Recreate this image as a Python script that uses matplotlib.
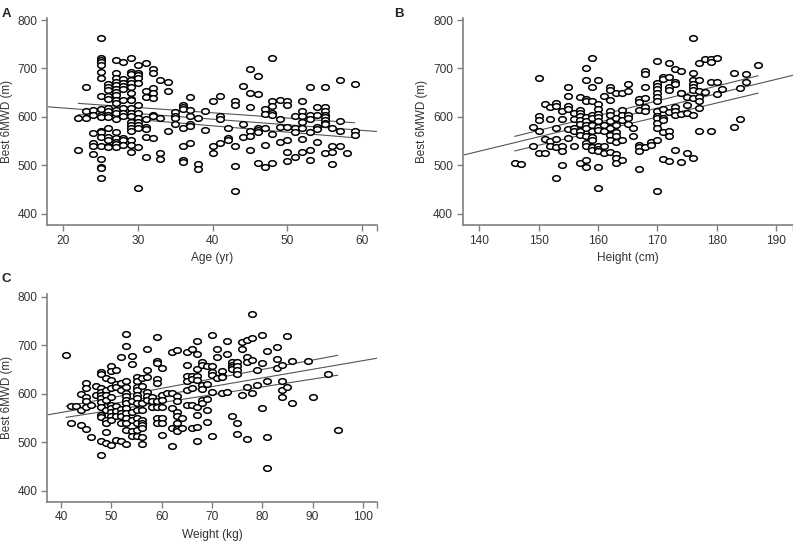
import matplotlib
matplotlib.use('Agg')
import matplotlib.pyplot as plt
import numpy as np
from matplotlib.path import Path
from matplotlib.transforms import Affine2D

plt.rcParams['font.family'] = ['Liberation Sans', 'DejaVu Sans']

# --- Panel A: age (yr) columns and the 6MWD values seen in each column
age_cols = [22, 23, 24, 25, 26, 27, 28, 29, 30, 31, 32, 33, 34, 35, 36, 37, 38, 39, 40,
            41, 42, 43, 44, 45, 46, 47, 48, 49, 50, 51, 52, 53, 54, 55, 56, 57, 58, 59]
age_mwd = [
    [598, 531],
    [661, 612, 598],
    [614, 603, 566, 547, 541, 523],
    [763, 722, 718, 713, 708, 693, 681, 644, 617, 603, 600, 572, 568, 559, 540, 514, 497, 495, 475],
    [668, 661, 656, 644, 636, 618, 612, 603, 599, 578, 559, 553, 541, 539],
    [718, 691, 680, 673, 666, 657, 652, 645, 635, 628, 614, 608, 596, 568, 556, 549, 544, 539],
    [713, 678, 671, 664, 657, 635, 618, 608, 601, 556, 553, 542],
    [721, 693, 689, 676, 671, 661, 649, 638, 634, 618, 608, 601, 590, 583, 577, 572, 553, 542, 528],
    [707, 691, 687, 681, 671, 625, 608, 597, 590, 583, 577, 538, 454],
    [711, 654, 642, 596, 580, 575, 559, 517],
    [698, 691, 660, 650, 640, 604, 601, 556],
    [676, 597, 526, 513],
    [673, 653, 571],
    [611, 602, 597, 585],
    [625, 621, 616, 577, 540, 511, 507],
    [641, 614, 601, 586, 582, 546],
    [598, 503, 493],
    [612, 573],
    [632, 540, 525],
    [643, 602, 596, 546],
    [577, 557, 553],
    [633, 625, 541, 499, 447],
    [664, 586, 559],
    [699, 649, 621, 572, 561, 532],
    [685, 648, 578, 573, 568, 504],
    [616, 606, 577, 542, 496],
    [722, 632, 623, 608, 604, 565, 504],
    [634, 595, 579, 549],
    [632, 625, 579, 553, 528, 510],
    [601, 577, 568, 517],
    [632, 613, 601, 589, 577, 554, 528],
    [661, 603, 596, 568, 531, 511],
    [621, 603, 579, 575, 549],
    [661, 621, 612, 603, 599, 594, 587, 585, 525],
    [577, 540, 528, 502],
    [676, 592, 571, 541],
    [526],
    [667, 571, 562],
]

# --- Panel B: height (cm)
height_cols = [146, 147, 149, 150, 151, 152, 153, 154, 155, 156, 157, 158, 159, 160, 161, 162,
               163, 164, 165, 166, 167, 168, 169, 170, 171, 172, 173, 174, 175, 176, 177, 178,
               179, 180, 181, 183, 184, 185, 187]
height_mwd = [
    [505],
    [502],
    [579, 541],
    [681, 602, 593, 572, 526],
    [626, 554, 526],
    [621, 596, 550, 541],
    [628, 623, 578, 554, 537, 475],
    [612, 596, 541, 530, 500],
    [661, 644, 623, 617, 576, 557],
    [609, 596, 577, 570, 541],
    [641, 614, 609, 601, 593, 586, 570, 563, 505],
    [700, 676, 637, 633, 599, 591, 583, 577, 560, 546, 541, 512, 497],
    [722, 661, 633, 604, 597, 584, 572, 558, 553, 539, 531],
    [676, 626, 617, 606, 599, 591, 580, 573, 541, 534, 529, 497, 453],
    [644, 584, 572, 541, 526],
    [661, 656, 635, 612, 604, 591, 577, 563, 553, 527],
    [650, 598, 584, 569, 560, 549, 524, 516, 505],
    [649, 614, 604, 594, 553, 512],
    [667, 654, 604, 597, 586],
    [577, 561],
    [637, 630, 614, 542, 539, 529, 493],
    [694, 689, 661, 640, 620, 612, 539],
    [549, 542],
    [716, 671, 664, 657, 650, 641, 633, 612, 601, 597, 587, 577, 553, 447],
    [683, 678, 617, 597, 593, 569, 514],
    [711, 683, 661, 656, 611, 571, 560, 510],
    [698, 672, 667, 621, 612, 603, 531],
    [694, 650, 649, 606, 507],
    [641, 625, 608, 525],
    [763, 691, 676, 667, 661, 656, 640, 603, 516],
    [711, 676, 654, 641, 632, 618, 572],
    [719, 651],
    [720, 713, 673, 572],
    [722, 672, 647],
    [658],
    [691, 579],
    [660, 595],
    [688, 673],
    [707],
]

# --- Panel C: weight (kg)
weight_cols = [41, 42, 43, 44, 45, 46, 47, 48, 49, 50, 51, 52, 53, 54, 55, 56, 57, 58, 59, 60,
               61, 62, 63, 64, 65, 66, 67, 68, 69, 70, 71, 72, 73, 74, 75, 76, 77, 78, 79, 80,
               81, 83, 84, 85, 86, 89, 90, 93, 95]
weight_mwd = [
    [680],
    [575, 540],
    [575],
    [600, 567, 536],
    [622, 611, 594, 584, 572, 527],
    [577, 510],
    [616, 598],
    [644, 641, 611, 604, 598, 591, 582, 572, 555, 552, 503, 473],
    [632, 608, 598, 586, 567, 546, 539, 521, 498],
    [656, 646, 628, 611, 594, 577, 570, 563, 553, 545, 493],
    [649, 620, 614, 575, 565, 553, 504],
    [675, 622, 608, 568, 559, 553, 539, 502],
    [722, 698, 625, 614, 602, 596, 587, 580, 570, 560, 550, 539, 524, 497],
    [677, 661, 584, 563, 545, 522, 512],
    [634, 625, 614, 607, 598, 591, 580, 567, 550, 539, 524, 512],
    [632, 616, 580, 567, 546, 539, 536, 529, 510, 495],
    [692, 649, 634, 604, 596, 586],
    [594, 584, 572],
    [716, 668, 663, 631, 622, 584, 572, 550, 539],
    [653, 598, 587, 572, 550, 539, 515],
    [602],
    [685, 602, 570, 529, 491],
    [690, 596, 584, 563, 553, 540, 527, 522],
    [550, 529],
    [685, 659, 637, 626, 607, 577],
    [692, 637, 630, 611, 577, 529],
    [709, 682, 651, 637, 628, 572, 556, 532, 503],
    [665, 659, 618, 610, 587, 580],
    [657, 620, 589, 567, 542],
    [720, 656, 644, 639, 604, 513],
    [692, 675, 632],
    [646, 637, 634, 601],
    [709, 682, 604],
    [665, 659, 654, 650, 553],
    [666, 656, 649, 640, 539, 516],
    [707, 692, 598],
    [711, 675, 666, 614, 506],
    [764, 715, 670, 601],
    [649, 618],
    [721, 664, 570],
    [687, 625, 510, 446],
    [697, 672, 652],
    [659, 625, 608, 593],
    [719, 613],
    [668, 580],
    [667],
    [594],
    [640],
    [524],
]

# regression line and the two shorter band lines, as (x0, x1, y0, y1)
age_fit = [(17.8, 62.0, 621, 570), (22, 59, 628, 588), (22, 59, 605, 557)]
height_fit = [(137.2, 192.9, 521, 686), (146, 187, 560, 685), (146, 187, 530, 649)]
weight_fit = [(37.2, 102.8, 556, 673), (41, 95, 574, 679), (41, 95, 551, 638)]

# slightly flattened ring marker
ring = Path.unit_circle().transformed(Affine2D().scale(1.0, 0.74))


def draw_panel(ax, cols, groups, fits, xlim, xticks, xlabel):
    x = np.repeat(cols, [len(g) for g in groups])
    y = np.concatenate([np.asarray(g, dtype=float) for g in groups])
    for x0, x1, y0, y1 in fits:
        ax.plot([x0, x1], [y0, y1], color='#555555', lw=0.8, zorder=2)
    ax.scatter(x, y, marker=ring, s=30, facecolors='white', edgecolors='black',
               linewidths=1.1, zorder=3)
    ax.set_xlim(*xlim)
    ax.set_ylim(377, 805)
    ax.set_xticks(xticks)
    ax.set_yticks([400, 500, 600, 700, 800])
    ax.set_xticks([xlim[1]], minor=True)
    for side in ('top', 'right'):
        ax.spines[side].set_visible(False)
    for side in ('left', 'bottom'):
        ax.spines[side].set_color('#808080')
        ax.spines[side].set_linewidth(1.2)
    ax.tick_params(which='both', direction='out', length=4, width=1, color='#808080',
                   labelsize=8.6, labelcolor='#333333', pad=3)
    ax.tick_params(axis='x', which='minor', labelbottom=False)
    ax.set_xlabel(xlabel, fontsize=8.6, color='#333333')
    ax.set_ylabel('Best 6MWD (m)', fontsize=8.4, color='#333333')
    ax.yaxis.set_label_coords(-0.104, 0.5)
    ax.xaxis.set_label_coords(0.5, -0.13)


fig = plt.figure(figsize=(7.93, 5.43), dpi=100)
ax_a = fig.add_axes([0.0593, 0.5856, 0.4161, 0.3820])
ax_b = fig.add_axes([0.5835, 0.5856, 0.4165, 0.3820])
ax_c = fig.add_axes([0.0593, 0.0761, 0.4161, 0.3820])

draw_panel(ax_a, age_cols, age_mwd, age_fit, (17.8, 62.0), [20, 30, 40, 50, 60], 'Age (yr)')
draw_panel(ax_b, height_cols, height_mwd, height_fit, (137.2, 192.9),
           [140, 150, 160, 170, 180, 190], 'Height (cm)')
draw_panel(ax_c, weight_cols, weight_mwd, weight_fit, (37.2, 102.8),
           [40, 50, 60, 70, 80, 90, 100], 'Weight (kg)')

for label, (fx, fy) in zip('ABC', [(0.002, 0.985), (0.497, 0.985), (0.002, 0.497)]):
    fig.text(fx, fy, label, fontsize=9.5, fontweight='bold', color='#222222',
             ha='left', va='top')

fig.savefig('out.png', dpi=100)
